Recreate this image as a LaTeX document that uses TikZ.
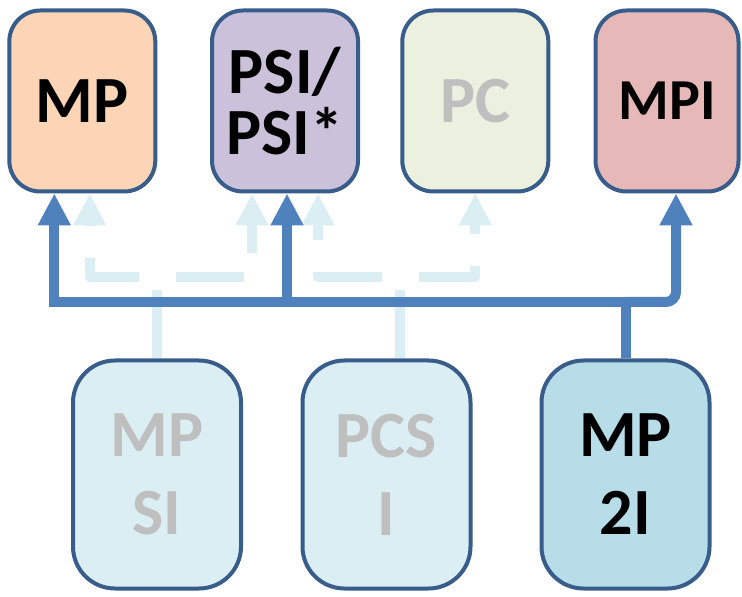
\documentclass[tikz,border=0pt]{standalone}
\usepackage{fontspec}
\setmainfont{Carlito}
\usetikzlibrary{arrows.meta,calc}
\usepackage{xcolor}

\definecolor{boxline}{RGB}{56,93,138}
\definecolor{busblue}{RGB}{79,129,189}
\definecolor{faintblue}{RGB}{219,238,244}
\definecolor{mpfill}{RGB}{251,213,181}
\definecolor{psifill}{RGB}{204,193,218}
\definecolor{pcfill}{RGB}{235,241,222}
\definecolor{mpifill}{RGB}{230,185,184}
\definecolor{lowfill}{RGB}{219,238,244}
\definecolor{mptwoifill}{RGB}{183,222,232}
\definecolor{fadedtext}{RGB}{191,191,191}

\tikzset{
    filiere/.style={draw=boxline, line width=2pt, align=center, inner sep=0pt},
    topbox/.style={filiere, rounded corners=15.5pt, minimum width=73pt, minimum height=90.5pt,
        font=\bfseries\fontsize{33}{30.5}\selectfont},
    lowbox/.style={filiere, rounded corners=21pt, minimum width=84pt, minimum height=114pt,
        font=\bfseries\fontsize{33}{39}\selectfont},
    busline/.style={busblue, line width=5pt},
    bus/.style={busline, -{Triangle[width=15.5pt,length=16pt]}},
    faint/.style={faintblue, line width=5pt, dash pattern=on 34pt off 16pt, line join=round,
        -{Triangle[width=15.5pt,length=16pt]}}
}

\begin{document}
\begin{tikzpicture}[x=0.5pt,y=-0.5pt]
            \def\topY{101}
            \def\lowY{474.5}
            \def\forkY{277}
            \useasboundingbox (0,0) rectangle (742,597);

            \node[topbox, fill=mpfill] (mp) at (82.3,\topY) {MP};
            \node[topbox, fill=psifill] (psi) at (285,\topY) {PSI/\\PSI*};
            \node[topbox, fill=pcfill, text=fadedtext] (pc) at (475.3,\topY) {PC};
            \node[topbox, fill=mpifill, minimum width=71.5pt,
                font=\bfseries\fontsize{29}{30}\selectfont] (mpi) at (667,\topY) {MPI};

            \node[lowbox, fill=lowfill, text=fadedtext] (mpsi) at (157,\lowY) {MP\\SI};
            \node[lowbox, fill=lowfill, text=fadedtext] (pcsi) at (386.5,\lowY) {PCS\\I};
            \node[lowbox, fill=mptwoifill] (mp2i) at (625.5,\lowY) {MP\\2I};

            \coordinate (mpfaint) at ($(mp.south)+(7.4,0)$);
            \coordinate (psifaintL) at ($(psi.south)+(-33,0)$);
            \coordinate (psifaintR) at ($(psi.south)+(33,0)$);
            \coordinate (pcsiout) at ($(pcsi.north)+(13.5,0)$);
            \coordinate (forkA) at (mpsi.north |- 0,\forkY);
            \coordinate (forkB) at (pcsiout |- 0,\forkY);

            \draw[faint] (mpsi.north) -- (forkA) -| (mpfaint);
            \draw[faint] (mpsi.north) -- (forkA) -| (psifaintL);
            \draw[faint] (pcsiout) -- (forkB) -| (psifaintR);
            \draw[faint] (pcsiout) -- (forkB) -| (pc.south);

            \coordinate (hub) at (mp2i.north |- 0,302);
            \coordinate (mpin) at ($(mp.south)+(-28,0)$);
            \coordinate (psiin) at ($(psi.south)+(2,0)$);
            \coordinate (mpiin) at ($(mpi.south)+(9,0)$);

            \draw[busline] (mp2i.north) -- (hub);
            \draw[bus] (hub) -| (mpin);
            \draw[bus] (psiin |- hub) -- (psiin);
            \draw[bus, rounded corners=5pt] (hub) -| (mpiin);
        \end{tikzpicture}
\end{document}
